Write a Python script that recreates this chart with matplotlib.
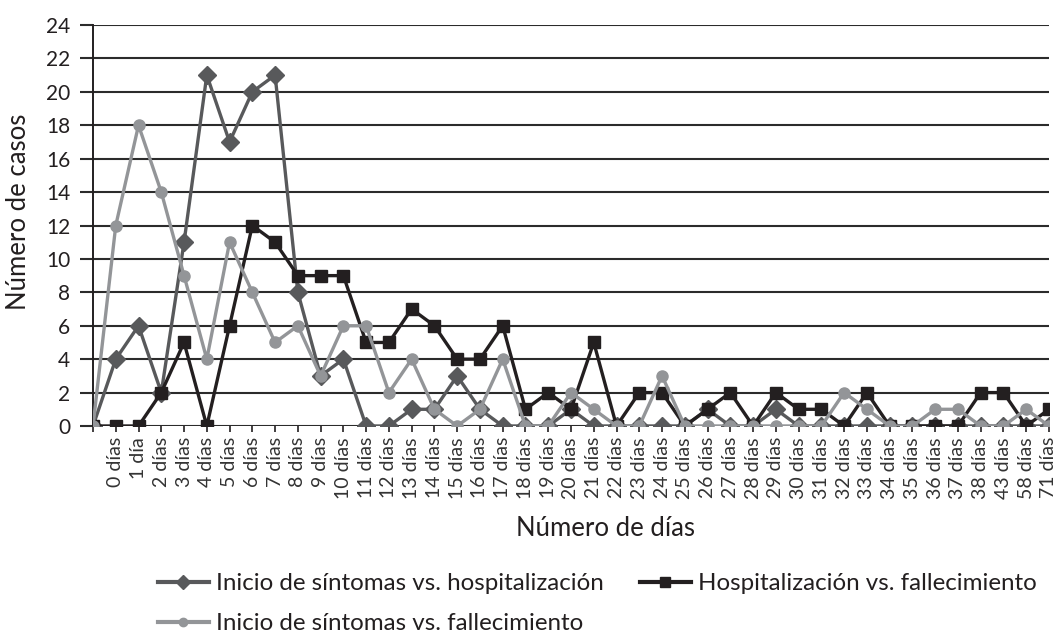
import numpy as np
import matplotlib
matplotlib.use("Agg")
import matplotlib.pyplot as plt
from matplotlib.ticker import MultipleLocator

plt.rcParams["font.family"] = ["Lato", "DejaVu Sans"]

# category labels (first category has no label)
dias = [""] + ["0 días", "1 día"] + [f"{d} días" for d in range(2, 39)] + ["43 días", "58 días", "71 días"]

# Inicio de síntomas vs. hospitalización
sint_hosp = [0, 4, 6, 2, 11, 21, 17, 20, 21, 8, 3, 4, 0, 0, 1, 1, 3, 1, 0, 0,
             0, 1, 0, 0, 0, 0, 0, 1, 0, 0, 1, 0, 0, 0, 0, 0, 0, 0, 0, 0, 0, 0, 0]
# Hospitalización vs. fallecimiento
hosp_fall = [0, 0, 0, 2, 5, 0, 6, 12, 11, 9, 9, 9, 5, 5, 7, 6, 4, 4, 6, 1,
             2, 1, 5, 0, 2, 2, 0, 1, 2, 0, 2, 1, 1, 0, 2, 0, 0, 0, 0, 2, 2, 0, 1]
# Inicio de síntomas vs. fallecimiento
sint_fall = [0, 12, 18, 14, 9, 4, 11, 8, 5, 6, 3, 6, 6, 2, 4, 1, 0, 1, 4, 0,
             0, 2, 1, 0, 0, 3, 0, 0, 0, 0, 0, 0, 0, 2, 1, 0, 0, 1, 1, 0, 0, 1, 0]

W, H = 1063, 636
fig = plt.figure(figsize=(W / 100, H / 100), dpi=100)
ax = fig.add_axes([93 / W, 1 - 426 / H, (1049 - 93) / W, (426 - 25) / H])

x = np.arange(len(dias))
l1, = ax.plot(x, sint_hosp, color="#58595b", lw=2.4, marker="D", ms=9.5,
              label="Inicio de síntomas vs. hospitalización", zorder=3)
l2, = ax.plot(x, hosp_fall, color="#231f20", lw=2.4, marker="s", ms=9,
              label="Hospitalización vs. fallecimiento", zorder=4)
l3, = ax.plot(x, sint_fall, color="#939598", lw=2.4, marker="o", ms=8,
              label="Inicio de síntomas vs. fallecimiento", zorder=5)

ax.set_xlim(0, len(dias) - 1)
ax.set_ylim(0, 24)
ax.yaxis.set_major_locator(MultipleLocator(2))
ax.set_xticks(x)
ax.set_xticklabels(dias, rotation=90, fontsize=14, color="#333333")
ax.tick_params(axis="x", length=4, width=1.2, color="#231f20", pad=4)
ax.tick_params(axis="y", length=9.5, width=1.5, color="#2b2b2b", pad=7,
               labelsize=15, labelcolor="#231f20")

ax.set_axisbelow(True)
ax.grid(axis="y", color="#2b2b2b", lw=1.5)
for s in ["top", "right", "bottom"]:
    ax.spines[s].set_visible(False)
ax.spines["left"].set_color("#231f20")
ax.spines["left"].set_linewidth(1.4)

fig.text(19 / W, 1 - 212 / H, "Número de casos", fontsize=18.5, color="#231f20",
         rotation=90, ha="center", va="center")
fig.text(606 / W, 1 - 528 / H, "Número de días", fontsize=18.5, color="#231f20",
         ha="center", va="center")

leg = fig.legend(handles=[l1, l3, l2], ncol=2, loc="upper left",
                 bbox_to_anchor=(158 / W, 1 - 573 / H), frameon=False,
                 fontsize=17.4, handlelength=2.1, handletextpad=0.3,
                 columnspacing=1.5, labelspacing=0.8, borderpad=0,
                 borderaxespad=0, markerscale=0.75, labelcolor="#231f20")
for h in leg.legend_handles:
    h.set_linewidth(3)

fig.savefig("out.png", dpi=100)
